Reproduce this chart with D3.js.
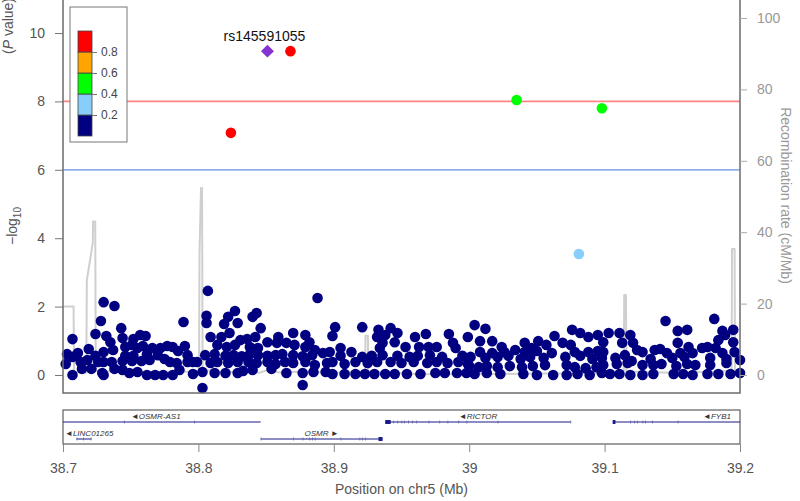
<!DOCTYPE html>
<html>
<head>
<meta charset="utf-8">
<script src="https://cdn.jsdelivr.net/npm/d3@7"></script>
<style>
  body { margin: 0; background: #fff; }
  text { font-family: 'Liberation Sans', Arial, sans-serif; }
</style>
</head>
<body>
<div id="chart"></div>
<script>
// ---- data ----
const xTicks = [38.7, 38.8, 38.9, 39, 39.1, 39.2]
const yTicks = [0, 2, 4, 6, 8, 10]
const recombTicks = [0, 20, 40, 60, 80, 100]
const ldBreaks = [0.2, 0.4, 0.6, 0.8]
const ldColors = ['#000080', '#87CEFA', '#00FF00', '#FFA500', '#FF0000']
const genomeWideLine = 8
const suggestiveLine = 6

const leadName = 'rs145591055'
const leadPos = 38.851
const leadLogP = 9.47

const hitPos = [38.868, 38.824, 39.035, 39.098, 39.081]
const hitLogP = [9.47, 7.08, 8.04, 7.80, 3.54]
const hitR2 = [0.92, 0.85, 0.52, 0.47, 0.30]

// remaining snps, r2 < 0.2
const snps = [
  [38.730, 2.13], [38.738, 2.02], [38.728, 1.58], [38.789, 1.55], [38.743, 1.37], [38.707, 1.05], [38.724, 1.20], [38.732, 1.14],
  [38.744, 1.08], [38.757, 1.17], [38.761, 1.14], [38.752, 1.05], [38.735, 0.96], [38.719, 0.76], [38.703, 0.61], [38.711, 0.64],
  [38.730, 0.67], [38.737, 0.73], [38.746, 0.82], [38.751, 0.88], [38.755, 0.79], [38.759, 0.85], [38.766, 0.79], [38.772, 0.79],
  [38.777, 0.85], [38.781, 0.82], [38.790, 0.85], [38.785, 0.70], [38.702, 0.32], [38.713, 0.38], [38.718, 0.44], [38.726, 0.38],
  [38.730, 0.38], [38.736, 0.38], [38.744, 0.41], [38.751, 0.41], [38.758, 0.41], [38.764, 0.44], [38.775, 0.47], [38.779, 0.38],
  [38.784, 0.35], [38.792, 0.38], [38.796, 0.38], [38.707, 0.00], [38.714, 0.18], [38.721, 0.18], [38.729, 0.06], [38.730, 0.00],
  [38.738, 0.18], [38.744, 0.15], [38.749, 0.06], [38.755, 0.09], [38.762, 0.00], [38.768, 0.00], [38.774, 0.00], [38.781, 0.00],
  [38.786, 0.15], [38.796, 0.03], [38.752, 0.56], [38.762, 0.61], [38.770, 0.58], [38.746, 0.56], [38.792, 0.58], [38.724, 0.56],
  [38.707, 0.53],
  [38.807, 2.46], [38.888, 2.25], [38.806, 1.73], [38.806, 1.52], [38.827, 1.87], [38.843, 1.81], [38.840, 1.70], [38.822, 1.70],
  [38.819, 1.49], [38.829, 1.52], [38.846, 1.37], [38.901, 1.40], [38.809, 1.11], [38.817, 1.11], [38.823, 1.23], [38.831, 1.02],
  [38.836, 1.05], [38.842, 1.11], [38.851, 0.96], [38.859, 1.11], [38.870, 1.23], [38.879, 1.17], [38.882, 0.96], [38.899, 1.14],
  [38.814, 0.88], [38.821, 0.82], [38.827, 0.88], [38.838, 0.82], [38.844, 0.79], [38.858, 0.94], [38.865, 0.94], [38.871, 0.88],
  [38.879, 0.82], [38.886, 0.73], [38.892, 0.64], [38.897, 0.67],
  [38.805, 0.58], [38.812, 0.61], [38.820, 0.56], [38.826, 0.58], [38.832, 0.55], [38.838, 0.61], [38.844, 0.58], [38.851, 0.56],
  [38.857, 0.58], [38.862, 0.61], [38.870, 0.58], [38.877, 0.55], [38.884, 0.58],
  [38.799, 0.38], [38.809, 0.35], [38.814, 0.38], [38.822, 0.35], [38.829, 0.38], [38.837, 0.38], [38.843, 0.35], [38.851, 0.38],
  [38.857, 0.32], [38.864, 0.38], [38.870, 0.35], [38.879, 0.38], [38.886, 0.29], [38.895, 0.35],
  [38.803, 0.09], [38.812, 0.06], [38.820, 0.06], [38.829, 0.06], [38.833, 0.12], [38.840, 0.15], [38.854, 0.18], [38.865, 0.06],
  [38.877, 0.06], [38.885, 0.09], [38.894, 0.09], [38.803, -0.38], [38.877, -0.29],
  [38.921, 1.40], [38.933, 1.32], [38.942, 1.37], [38.947, 1.23], [38.938, 1.17], [38.932, 1.11], [38.945, 0.96], [38.936, 0.94],
  [38.960, 1.11], [38.968, 1.20], [38.985, 1.20], [38.999, 1.11], [38.953, 0.82], [38.963, 0.82], [38.970, 0.82], [38.976, 0.82],
  [38.988, 0.94], [38.990, 0.79], [38.905, 0.79], [38.913, 0.67], [38.934, 0.79],
  [38.905, 0.56], [38.921, 0.53], [38.928, 0.56], [38.936, 0.58], [38.947, 0.56], [38.956, 0.53], [38.962, 0.56], [38.971, 0.58],
  [38.980, 0.53], [38.995, 0.56],
  [38.899, 0.38], [38.908, 0.32], [38.916, 0.38], [38.925, 0.35], [38.932, 0.38], [38.942, 0.38], [38.950, 0.35], [38.959, 0.38],
  [38.969, 0.35], [38.976, 0.38], [38.984, 0.35], [38.992, 0.38], [38.999, 0.32],
  [38.899, 0.03], [38.908, 0.03], [38.916, 0.03], [38.923, 0.03], [38.930, 0.03], [38.938, 0.03], [38.945, 0.03], [38.954, 0.03],
  [38.964, 0.03], [38.975, 0.06], [38.982, 0.06], [38.991, 0.06], [38.998, 0.06],
  [39.004, 1.46], [39.012, 1.35], [39.008, 0.99], [39.017, 0.99], [39.063, 1.14], [39.076, 1.32], [39.082, 1.23], [39.088, 1.11],
  [39.095, 1.17], [39.051, 0.99], [39.041, 0.94], [39.057, 0.88], [39.069, 0.94], [39.075, 0.88], [39.024, 0.82], [39.034, 0.73],
  [39.046, 0.79],
  [39.008, 0.67], [39.017, 0.64], [39.026, 0.67], [39.041, 0.67], [39.050, 0.70], [39.061, 0.64], [39.078, 0.67], [39.088, 0.67],
  [39.095, 0.70],
  [39.001, 0.53], [39.012, 0.50], [39.021, 0.53], [39.029, 0.56], [39.038, 0.47], [39.045, 0.53], [39.055, 0.50], [39.071, 0.53],
  [39.082, 0.56], [39.091, 0.47], [39.098, 0.50],
  [39.000, 0.26], [39.007, 0.23], [39.013, 0.26], [39.021, 0.23], [39.030, 0.26], [39.039, 0.23], [39.047, 0.26], [39.056, 0.29],
  [39.072, 0.29], [39.078, 0.23], [39.086, 0.20], [39.094, 0.23],
  [39.004, 0.03], [39.013, 0.06], [39.023, 0.03], [39.040, 0.03], [39.050, 0.00], [39.062, 0.00], [39.072, 0.00], [39.080, 0.03],
  [39.089, 0.00], [39.098, 0.06],
  [39.145, 1.58], [39.181, 1.64], [39.154, 1.29], [39.161, 1.32], [39.187, 1.29], [39.195, 1.32], [39.103, 1.23], [39.111, 1.23],
  [39.119, 1.17], [39.099, 0.96], [39.113, 0.94], [39.121, 0.94], [39.154, 0.94], [39.162, 0.82], [39.184, 1.02], [39.189, 1.17],
  [39.195, 0.96], [39.099, 0.67], [39.115, 0.58], [39.124, 0.73], [39.128, 0.67], [39.137, 0.73], [39.141, 0.76], [39.146, 0.64],
  [39.156, 0.64], [39.165, 0.64], [39.172, 0.79], [39.176, 0.82], [39.182, 0.79], [39.187, 0.64], [39.196, 0.67],
  [39.108, 0.50], [39.134, 0.47], [39.150, 0.50], [39.159, 0.53], [39.178, 0.50], [39.190, 0.47], [39.200, 0.44],
  [39.099, 0.29], [39.109, 0.32], [39.117, 0.35], [39.120, 0.41], [39.128, 0.29], [39.136, 0.29], [39.142, 0.32], [39.153, 0.26],
  [39.161, 0.32], [39.167, 0.29], [39.178, 0.29], [39.190, 0.35],
  [39.104, 0.03], [39.111, 0.03], [39.119, 0.00], [39.128, 0.00], [39.136, 0.03], [39.151, 0.03], [39.158, 0.03], [39.165, 0.00],
  [39.176, 0.03], [39.184, 0.03], [39.193, 0.03], [39.200, 0.06]
]

// recombination rate (cM/Mb)
const recombPos = [38.7000, 38.7078, 38.7082, 38.7172, 38.7176, 38.7220, 38.7222, 38.7238, 38.7242, 38.7400, 38.7600, 38.7800,
  38.8005, 38.8008, 38.8019, 38.8027, 38.8031, 38.8200, 38.8400, 38.8450, 38.8500, 38.8600, 38.8700, 38.9000,
  38.9232, 38.9234, 38.9252, 38.9254, 38.9600, 39.0000, 39.0500, 39.1000, 39.1142, 39.1145, 39.1158, 39.1161,
  39.1500, 39.1800, 39.1938, 39.1941, 39.1960, 39.1963, 39.2000]
const recombRate = [19.2, 19.2, 0.8, 0.6, 26.6, 37.0, 43.0, 43.0, 1.2, 0.9, 0.8, 0.9,
  1.0, 33.5, 52.4, 52.4, 1.5, 0.8, 1.2, 0.6, 1.3, 0.7, 0.9, 0.6,
  1.0, 11.0, 11.0, 1.0, 0.3, 0.2, 0.4, 0.5, 0.8, 22.4, 22.4, 1.0,
  0.6, 0.9, 1.2, 35.3, 35.3, 1.5, 1.0]

// genes
const geneNames = ['OSMR-AS1', 'LINC01265', 'OSMR', 'RICTOR', 'FYB1']
const geneStart = [38.691, 38.710, 38.846, 38.938, 39.106]
const geneEnd = [38.846, 38.721, 38.936, 39.075, 39.260]
const geneStrand = ['-', '-', '+', '-', '-']
const geneRow = [0, 1, 1, 0, 0]
const geneExons = [
  [[38.745, 38.7452], [38.797, 38.7972]],
  [[38.710, 38.7105], [38.715, 38.7152], [38.7205, 38.721]],
  [[38.846, 38.8462], [38.870, 38.8702], [38.877, 38.8772], [38.882, 38.8822], [38.884, 38.8842], [38.886, 38.8862],
    [38.905, 38.9052], [38.919, 38.9192], [38.921, 38.9212], [38.923, 38.9232], [38.933, 38.936]],
  [[38.938, 38.942], [38.944, 38.9442], [38.947, 38.9472], [38.950, 38.9502], [38.952, 38.9522], [38.955, 38.9552],
    [38.958, 38.9582], [38.961, 38.9612], [38.970, 38.9702], [38.978, 38.9782], [38.984, 38.9842], [38.992, 38.9922],
    [38.998, 38.9982], [39.021, 39.0212], [39.0748, 39.075]],
  [[39.106, 39.108], [39.119, 39.1192], [39.122, 39.1222], [39.124, 39.1242], [39.128, 39.1282], [39.130, 39.1302],
    [39.135, 39.1352], [39.154, 39.1542]]
]

// ---- layout ----
const dimensions = {
  width: 800,
  height: 501,
  plot: { left: 63, right: 740, top: -2, bottom: 393 },
  genes: { top: 410, bottom: 444, rowY: [422, 439] }
}

const svg = d3.select('#chart').append('svg')
  .attr('width', dimensions.width)
  .attr('height', dimensions.height)

const x = d3.scaleLinear()
  .domain([38.7, 39.2])
  .range([dimensions.plot.left, dimensions.plot.right])
const y = d3.scaleLinear()
  .domain([-0.526, 10.965])
  .range([dimensions.plot.bottom, 0])
const recombY = d3.scaleLinear()
  .domain([-5.04, 105.04])
  .range([dimensions.plot.bottom, 0])
const ldColor = d3.scaleThreshold().domain(ldBreaks).range(ldColors)

// recombination line
const recomb = recombPos.map((p, i) => [p, recombRate[i]])
svg.append('path')
  .datum(recomb)
  .attr('fill', 'none')
  .attr('stroke', '#cfcfcf')
  .attr('stroke-width', 2)
  .attr('stroke-linejoin', 'round')
  .attr('d', d3.line().x(d => x(d[0])).y(d => recombY(d[1])))

// significance lines
svg.append('line')
  .attr('x1', dimensions.plot.left).attr('x2', dimensions.plot.right)
  .attr('y1', y(genomeWideLine)).attr('y2', y(genomeWideLine))
  .attr('stroke', '#ff8484').attr('stroke-width', 1.6)
svg.append('line')
  .attr('x1', dimensions.plot.left).attr('x2', dimensions.plot.right)
  .attr('y1', y(suggestiveLine)).attr('y2', y(suggestiveLine))
  .attr('stroke', '#6a8fe6').attr('stroke-width', 1.3)

// snps
svg.append('g')
  .selectAll('circle')
  .data(snps)
  .join('circle')
  .attr('cx', d => x(d[0]))
  .attr('cy', d => y(d[1]))
  .attr('r', 5.3)
  .attr('fill', ldColor(0.1))

const hits = hitPos.map((p, i) => ({ pos: p, logp: hitLogP[i], r2: hitR2[i] }))
svg.append('g')
  .selectAll('circle')
  .data(hits)
  .join('circle')
  .attr('cx', d => x(d.pos))
  .attr('cy', d => y(d.logp))
  .attr('r', 5.3)
  .attr('fill', d => ldColor(d.r2))

// lead snp
svg.append('path')
  .attr('d', d3.symbol(d3.symbolSquare, 84)())
  .attr('transform', `translate(${x(leadPos)}, ${y(leadLogP)}) rotate(45)`)
  .attr('fill', '#8434d2')
svg.append('text')
  .attr('x', x(leadPos) - 3)
  .attr('y', y(leadLogP) - 10)
  .attr('text-anchor', 'middle')
  .attr('font-size', 14)
  .attr('fill', '#111')
  .text(leadName)

// frames
svg.append('rect')
  .attr('x', dimensions.plot.left)
  .attr('y', dimensions.plot.top)
  .attr('width', dimensions.plot.right - dimensions.plot.left)
  .attr('height', dimensions.plot.bottom - dimensions.plot.top)
  .attr('fill', 'none')
  .attr('stroke', '#6b6b6b')
  .attr('stroke-width', 1.5)

// axes
const yAxis = svg.append('g')
  .attr('transform', `translate(${dimensions.plot.left}, 0)`)
  .call(d3.axisLeft(y).tickValues(yTicks).tickSize(8).tickPadding(10))
yAxis.select('.domain').remove()
yAxis.selectAll('line').attr('stroke', '#777')
yAxis.selectAll('text').attr('font-size', 14).attr('fill', '#555').attr('font-family', 'Liberation Sans, Arial, sans-serif')

const rAxis = svg.append('g')
  .attr('transform', `translate(${dimensions.plot.right}, 0)`)
  .call(d3.axisRight(recombY).tickValues(recombTicks).tickSize(7).tickPadding(10))
rAxis.select('.domain').remove()
rAxis.selectAll('line').attr('stroke', '#aaa')
rAxis.selectAll('text').attr('font-size', 14).attr('fill', '#999').attr('font-family', 'Liberation Sans, Arial, sans-serif')

// axis titles
const yTitleX = 17
svg.append('text')
  .attr('transform', `translate(${yTitleX}, 245) rotate(-90)`)
  .attr('font-size', 14)
  .attr('fill', '#555')
  .call(t => {
    t.append('tspan').text('\u2212log')
    t.append('tspan').attr('font-size', 10).attr('dy', 4).text('10')
  })
svg.append('text')
  .attr('transform', `translate(${yTitleX - 4}, 54) rotate(-90)`)
  .attr('font-size', 14)
  .attr('fill', '#555')
  .call(t => {
    t.append('tspan').text('(')
    t.append('tspan').attr('font-style', 'italic').text('P')
    t.append('tspan').text(' value)')
  })
svg.append('text')
  .attr('transform', `translate(781, ${(dimensions.plot.top + dimensions.plot.bottom) / 2}) rotate(90)`)
  .attr('text-anchor', 'middle')
  .attr('font-size', 14)
  .attr('fill', '#999')
  .text('Recombination rate (cM/Mb)')

// legend
const legend = svg.append('g')
legend.append('rect')
  .attr('x', 70).attr('y', 7).attr('width', 57).attr('height', 135)
  .attr('fill', '#fff').attr('stroke', '#777').attr('stroke-width', 1)
const legendY = d3.scaleLinear().domain([0, 1]).range([136, 31])
const bins = [0, ...ldBreaks, 1]
legend.selectAll('rect.bin')
  .data(d3.pairs(bins))
  .join('rect')
  .attr('class', 'bin')
  .attr('x', 78)
  .attr('width', 14)
  .attr('y', d => legendY(d[1]))
  .attr('height', d => legendY(d[0]) - legendY(d[1]))
  .attr('fill', d => ldColor(d[0]))
  .attr('stroke', '#444')
  .attr('stroke-width', 0.8)
const lAxis = legend.append('g')
  .attr('transform', 'translate(92, 0)')
  .call(d3.axisRight(legendY).tickValues(ldBreaks).tickSize(5).tickPadding(4).tickFormat(d3.format('.1f')))
lAxis.select('.domain').remove()
lAxis.selectAll('line').attr('stroke', '#777')
lAxis.selectAll('text').attr('font-size', 12).attr('fill', '#444').attr('font-family', 'Liberation Sans, Arial, sans-serif')

// gene panel
const gp = dimensions.genes
svg.append('rect')
  .attr('x', dimensions.plot.left)
  .attr('y', gp.top)
  .attr('width', dimensions.plot.right - dimensions.plot.left)
  .attr('height', gp.bottom - gp.top)
  .attr('fill', 'none')
  .attr('stroke', '#6b6b6b')
  .attr('stroke-width', 1.3)

const geneG = svg.append('g')
geneNames.forEach((name, i) => {
  const rowY = gp.rowY[geneRow[i]]
  const x0 = x(Math.max(geneStart[i], 38.7))
  const x1 = x(Math.min(geneEnd[i], 39.2))
  geneG.append('line')
    .attr('x1', x0).attr('x2', x1)
    .attr('y1', rowY).attr('y2', rowY)
    .attr('stroke', '#1a1a8a')
    .attr('stroke-width', 1)
  geneExons[i].forEach(e => {
    const ex0 = x(e[0])
    const w = x(e[1]) - ex0
    const thick = w > 1.5
    geneG.append('rect')
      .attr('x', ex0).attr('y', rowY - (thick ? 2 : 1.5))
      .attr('width', Math.max(0.7, w)).attr('height', thick ? 4 : 3)
      .attr('fill', thick ? '#1a1a8a' : '#5a5aa8')
  })
  const label = geneG.append('text')
    .attr('y', rowY - 3)
    .attr('text-anchor', 'middle')
    .attr('font-size', 8)
    .attr('font-style', 'italic')
    .attr('fill', '#333')
    .text(geneStrand[i] === '-' ? '\u25C4' + name : name + ' \u25BA')
  const lw = label.node().getComputedTextLength()
  let cx = x((geneStart[i] + geneEnd[i]) / 2)
  cx = Math.max(dimensions.plot.left + lw / 2 + 2, Math.min(dimensions.plot.right - lw / 2 - 6, cx))
  label.attr('x', cx)
})

const xAxis = svg.append('g')
  .attr('transform', `translate(0, ${gp.bottom})`)
  .call(d3.axisBottom(x).tickValues(xTicks).tickSize(8).tickPadding(11).tickFormat(d => String(d)))
xAxis.select('.domain').remove()
xAxis.selectAll('line').attr('stroke', '#888')
xAxis.selectAll('text').attr('font-size', 14).attr('fill', '#555').attr('font-family', 'Liberation Sans, Arial, sans-serif')

svg.append('text')
  .attr('x', (dimensions.plot.left + dimensions.plot.right) / 2)
  .attr('y', 494)
  .attr('text-anchor', 'middle')
  .attr('font-size', 14)
  .attr('fill', '#555')
  .text('Position on chr5 (Mb)')
</script>
</body>
</html>
